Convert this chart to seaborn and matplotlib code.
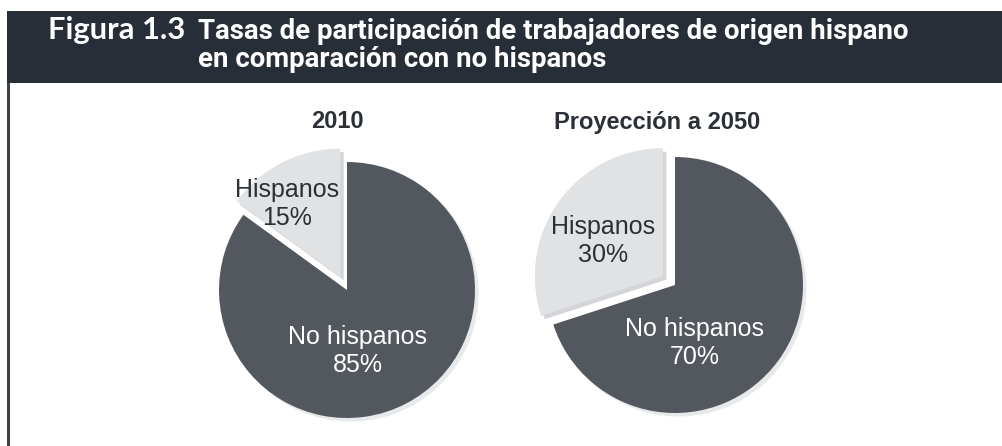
import matplotlib
matplotlib.use("Agg")
import matplotlib.pyplot as plt
import matplotlib.patches as mpatches
import seaborn as sns

# ---- data ----
categories = ["Hispanos", "No hispanos"]
values_2010 = [15, 85]
values_2050 = [30, 70]
pie_titles = ["2010", "Proyección a 2050"]
header_tag = "Figura 1.3"
header_title = ["Tasas de participación de trabajadores de origen hispano",
                "en comparación con no hispanos"]

sns.set_theme(style="white")
plt.rcParams['font.family'] = ['Liberation Sans', 'DejaVu Sans']

W, H = 1003, 446
fig = plt.figure(figsize=(W / 100, H / 100), dpi=100)
fig.patch.set_facecolor("white")
ax = fig.add_axes([0, 0, 1, 1])
ax.set_axis_off()

DARK_HDR = "#272e38"
DARK = "#53585f"
LIGHT = "#e1e2e4"
SHADOW = "#e8e9eb"
LIGHT_SHADOW = "#d4d5d8"
TXT = "#2b2f36"

palette = sns.color_palette([LIGHT, DARK])

# header band and left rule
ax.add_patch(mpatches.Rectangle((7, H - 83), W - 7, 72, color=DARK_HDR, lw=0, zorder=1))
ax.add_patch(mpatches.Rectangle((7, 0), 3, H - 83, color="#3b424b", lw=0, zorder=1))


def yy(y):
    return H - y


def fit_text(x, y, s, target_w, size, **kw):
    t = ax.text(x, y, s, fontsize=size, **kw)
    fig.canvas.draw()
    r = fig.canvas.get_renderer()
    w = t.get_window_extent(r).width
    t.set_fontsize(size * target_w / w)
    return t


fit_text(48, yy(39), header_tag, 137, 22, color="white", fontweight="bold",
         family=["Lato", "DejaVu Sans"], va="baseline", ha="left", zorder=3)
t1 = fit_text(198, yy(39), header_title[0], 712, 17, color="white", fontweight="bold",
              family=["Roboto", "DejaVu Sans"], va="baseline", ha="left", zorder=3)
t2 = ax.text(198, yy(67), header_title[1], color="white", fontweight="bold",
             family=["Roboto", "DejaVu Sans"], va="baseline", ha="left", zorder=3)
t2.set_fontsize(t1.get_fontsize())

# pies
configs = [
    dict(vals=values_2010, center=(347, yy(290)), title=pie_titles[0], tpos=(337, yy(122)),
         hpos=(287, yy(204)), npos=(358, yy(351))),
    dict(vals=values_2050, center=(675, yy(285)), title=pie_titles[1], tpos=(657, yy(122)),
         hpos=(603, yy(241)), npos=(695, yy(343))),
]
R = 128
for cfg in configs:
    vals = cfg["vals"]
    cx, cy = cfg["center"]
    expl = [15, 0]
    # soft shadow
    ax.pie(vals, center=(cx + 3.5, cy - 3.5), radius=R, startangle=90, counterclock=True,
           explode=expl, colors=[LIGHT_SHADOW, SHADOW], frame=True,
           wedgeprops=dict(linewidth=0, zorder=1))
    ax.pie(vals, center=(cx, cy), radius=R, startangle=90, counterclock=True,
           explode=expl, colors=palette, frame=True,
           wedgeprops=dict(linewidth=0, zorder=2))
    ax.text(*cfg["tpos"], cfg["title"], ha="center", va="center", fontsize=17,
            fontweight="bold", color=TXT, zorder=4)
    ax.text(*cfg["hpos"], f"{categories[0]}\n{vals[0]}%", ha="center", va="center",
            fontsize=18, color=TXT, linespacing=1.2, zorder=4)
    ax.text(*cfg["npos"], f"{categories[1]}\n{vals[1]}%", ha="center", va="center",
            fontsize=18, color="white", linespacing=1.2, zorder=4)

ax.set_xlim(0, W)
ax.set_ylim(0, H)
ax.set_aspect("equal", adjustable="box")
ax.set_axis_off()

fig.savefig("out.png", dpi=100, facecolor="white")
